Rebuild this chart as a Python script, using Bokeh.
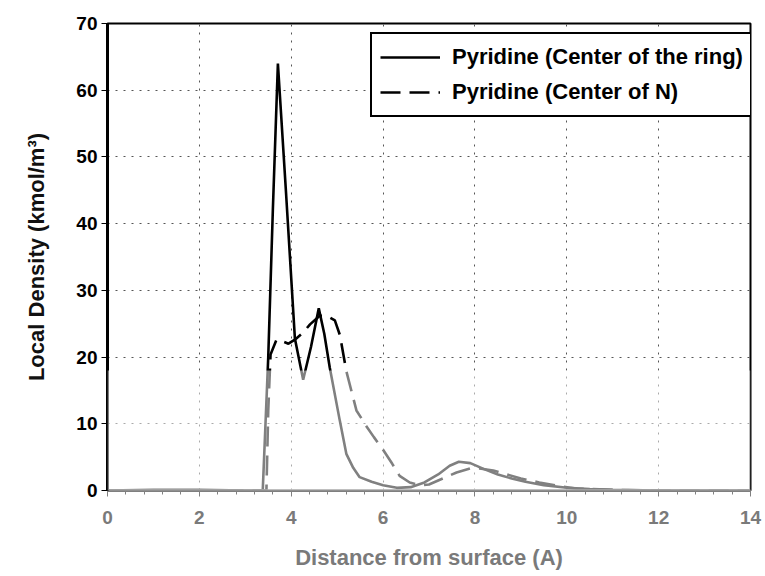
from bokeh.plotting import figure
from bokeh.models import Legend, LegendItem, BoxAnnotation, FixedTicker
from bokeh.embed import file_html
from bokeh.resources import INLINE

# --- data ---
ring_x = [0, 1, 2, 3, 3.38, 3.5, 3.6, 3.71, 3.89, 4.08, 4.26, 4.43, 4.6, 4.72, 4.84, 5.06, 5.2,
          5.35, 5.49, 5.75, 6.0, 6.3, 6.6, 6.9, 7.2, 7.45, 7.65, 7.9, 8.2, 8.5, 8.8, 9.1, 9.5,
          10.0, 10.5, 11, 12, 13, 14]
ring_y = [0, 0.1, 0.1, 0, 0, 20, 42, 64, 44.3, 22.8, 16.6, 21.5, 27.3, 23.5, 18.4, 10.4, 5.5,
          3.4, 2.0, 1.3, 0.8, 0.4, 0.5, 1.2, 2.4, 3.7, 4.3, 4.1, 3.2, 2.4, 1.8, 1.3, 0.8,
          0.4, 0.2, 0.1, 0, 0, 0]

n_x = [0, 2, 3, 3.46, 3.5, 3.55, 3.68, 3.83, 3.94, 4.08, 4.25, 4.41, 4.62, 4.77, 4.95, 5.06,
       5.2, 5.42, 5.64, 5.8, 6.0, 6.2, 6.36, 6.58, 6.8, 7.0, 7.3, 7.6, 7.9, 8.1, 8.4, 8.7, 9.0,
       9.4, 9.8, 10.2, 11, 12, 13, 14]
n_y = [0, 0, 0, 0, 12, 20.4, 22.6, 22.3, 22.0, 22.6, 23.6, 24.9, 26.2, 26.2, 25.5, 23.3,
       17.9, 12.0, 9.6, 8.0, 6.1, 4.0, 2.2, 1.2, 0.8, 0.9, 1.8, 2.7, 3.3, 3.3, 3.0, 2.4, 1.8,
       1.2, 0.7, 0.3, 0.1, 0, 0, 0]

x_ticks = [0, 2, 4, 6, 8, 10, 12, 14]
y_ticks = [0, 10, 20, 30, 40, 50, 60, 70]
label_ring = "Pyridine (Center of the ring)"
label_n = "Pyridine (Center of N)"

FONT = "Liberation Sans"

p = figure(width=765, height=576, x_range=(0, 14), y_range=(0, 70),
           output_backend="svg", toolbar_location=None,
           min_border_left=107, min_border_right=15, min_border_top=23, min_border_bottom=86)
p.background_fill_color = "white"
p.border_fill_color = "white"
p.outline_line_color = "black"
p.outline_line_width = 2
p.outline_line_alpha = 1

r1 = p.line(ring_x, ring_y, line_color="black", line_width=2.6)
r2 = p.line(n_x, n_y, line_color="black", line_width=2.6, line_dash="20 9")

# faded lower part (watermark in the reference)
p.add_layout(BoxAnnotation(top=18, fill_color="white", fill_alpha=0.5, line_alpha=0, level="overlay"))

# axes
p.xaxis.ticker = FixedTicker(ticks=x_ticks, minor_ticks=[i * 0.4 for i in range(36)])
p.yaxis.ticker = FixedTicker(ticks=y_ticks, minor_ticks=[])
for ax in (p.xaxis[0], p.yaxis[0]):
    ax.major_label_text_font = FONT
    ax.major_label_text_font_style = "bold"
    ax.major_label_text_font_size = "19px"
    ax.axis_label_text_font = FONT
    ax.axis_label_text_font_style = "bold"
    ax.axis_label_text_font_size = "22px"
    ax.major_tick_in = 0
    ax.major_tick_out = 6
    ax.minor_tick_in = 0
    ax.minor_tick_out = 4

p.xaxis.axis_label = "Distance from surface (A)"
p.yaxis.axis_label = "Local Density (kmol/m³)"
p.xaxis.axis_line_color = "#808080"
p.xaxis.axis_line_width = 2
p.xaxis.major_tick_line_color = "#808080"
p.xaxis.minor_tick_line_color = "#808080"
p.xaxis.major_label_text_color = "#7a7a7a"
p.xaxis.axis_label_text_color = "#7a7a7a"
p.xaxis.major_label_standoff = 14
p.xaxis.axis_label_standoff = 18
p.yaxis.axis_line_color = "black"
p.yaxis.axis_line_width = 3
p.yaxis.major_tick_line_color = "black"
p.yaxis.major_label_text_color = "black"
p.yaxis.axis_label_text_color = "#111111"
p.yaxis.major_label_standoff = 4
p.yaxis.axis_label_standoff = 24

# grid
for g in (p.xgrid[0], p.ygrid[0]):
    g.grid_line_color = "#555555"
    g.grid_line_dash = "2 6"
    g.grid_line_width = 1

legend = Legend(items=[LegendItem(label=label_ring, renderers=[r1]),
                       LegendItem(label=label_n, renderers=[r2])],
                location=(263, 373))
legend.label_text_font = FONT
legend.label_text_font_style = "bold"
legend.label_text_font_size = "22px"
legend.label_text_color = "black"
legend.glyph_width = 60
legend.glyph_height = 30
legend.label_height = 30
legend.label_width = 284
legend.label_standoff = 12
legend.spacing = 5
legend.padding = 8
legend.margin = 0
legend.border_line_color = "black"
legend.border_line_width = 2
legend.border_line_alpha = 1
legend.background_fill_color = "white"
legend.background_fill_alpha = 1
p.add_layout(legend)

open("out.html", "w").write(file_html(p, INLINE))
